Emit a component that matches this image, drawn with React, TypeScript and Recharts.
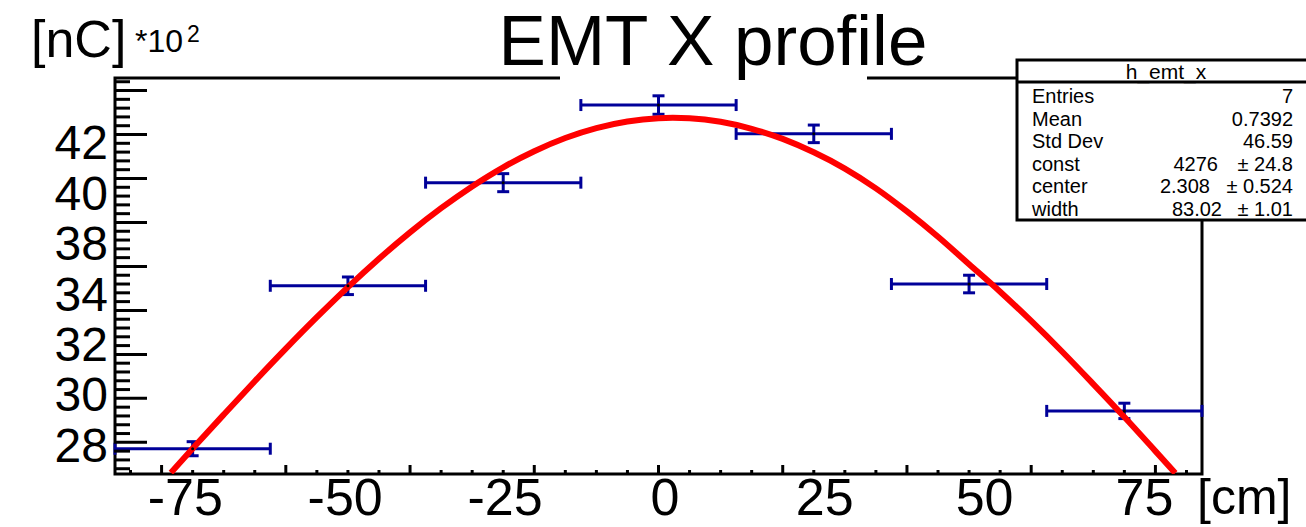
import React from 'react';
import { ComposedChart, XAxis, YAxis, Scatter, Line, ErrorBar, ReferenceArea } from 'recharts';

// histogram h_emt_x : 7 bins of 25 cm, values in [nC]*10^2
const binCenters = [-75, -50, -25, 0, 25, 50, 75];
const binValues = [27.71, 35.12, 39.81, 43.34, 42.03, 35.2, 29.43];
const binErrors = [0.32, 0.4, 0.41, 0.42, 0.4, 0.4, 0.35];
const binHalfWidths = [12.5, 12.5, 12.5, 12.5, 12.5, 12.5, 12.5];

// red gaussian fit
const fitX = [-78.5, -75, -70, -65, -60, -55, -50, -45, -40, -35, -30, -25, -20, -15, -10, -5, 0, 2.3, 5, 10, 15, 20, 25, 30, 35, 40, 45, 50, 55, 60, 65, 70, 75, 80, 83.2];
const fitY = [26.62, 27.72, 29.26, 30.78, 32.26, 33.69, 35.06, 36.35, 37.55, 38.65, 39.64, 40.51, 41.24, 41.84, 42.29, 42.59, 42.74, 42.76, 42.74, 42.58, 42.26, 41.8, 41.19, 40.45, 39.55, 38.5, 37.35, 36.1, 34.85, 33.52, 32.12, 30.65, 29.15, 27.6, 26.6];

const xTickMarks = [-85, -80, -75, -70, -65, -60, -55, -50, -45, -40, -35, -30, -25, -20, -15, -10, -5, 0, 5, 10, 15, 20, 25, 30, 35, 40, 45, 50, 55, 60, 65, 70, 75, 80, 85];
const yTickMarks = [26.8, 27.2, 27.6, 28, 28.4, 28.8, 29.2, 29.6, 30, 30.4, 30.8, 31.2, 31.6, 32, 32.4, 32.8, 33.2, 33.6, 34, 34.4, 34.8, 35.2, 35.6, 36, 36.4, 36.8, 37.2, 37.6, 38, 38.4, 38.8, 39.2, 39.6, 40, 40.4, 40.8, 41.2, 41.6, 42, 42.4, 42.8, 43.2, 43.6, 44, 44.4];
const xTickLabels = [-75, -50, -25, 0, 25, 50, 75];
const yTickLabels = ['28', '30', '32', '34', '38', '40', '42'];

const statsRows = [
  { name: 'Entries', value: '7', err: '' },
  { name: 'Mean', value: '0.7392', err: '' },
  { name: 'Std Dev', value: '46.59', err: '' },
  { name: 'const', value: '4276', err: '± 24.8' },
  { name: 'center', value: '2.308', err: '± 0.524' },
  { name: 'width', value: '83.02', err: '± 1.01' },
];

const points = binCenters.map((x, i) => ({ x, y: binValues[i], ex: binHalfWidths[i], ey: binErrors[i] }));
const fit = fitX.map((x, i) => ({ x, y: fitY[i] }));

const FONT = '"Liberation Sans", Arial, Helvetica, sans-serif';
const BLUE = '#000099';

const XTickMark = (props: any) => {
  const { x, y, payload } = props;
  const major = Math.abs(payload.value % 20) < 0.01;
  return <line x1={x} x2={x} y1={y} y2={y - (major ? 10 : 5)} stroke="#000" strokeWidth={3} />;
};

const YTickMark = (props: any) => {
  const { x, y, payload } = props;
  const half = payload.value / 2;
  const major = Math.abs(half - Math.round(half)) < 0.01;
  return <line x1={x} x2={x + (major ? 33 : 16)} y1={y} y2={y} stroke="#000" strokeWidth={3} />;
};

const Dot = (props: any) => <circle cx={props.cx} cy={props.cy} r={1.5} fill="#000" />;

export default function App() {
  return (
    <div style={{ position: 'absolute', left: 0, top: 0, width: 1306, height: 527, background: '#fff', fontFamily: FONT }}>
      <ComposedChart width={1306} height={527} margin={{ top: 78, right: 104, bottom: 51, left: 113 }}>
        <XAxis xAxisId="main" dataKey="x" type="number" domain={[-87.5, 87.5]} allowDataOverflow
          ticks={xTickMarks} interval={0} height={1} tickSize={0} tickMargin={0}
          axisLine={false} tickLine={false} tick={<XTickMark />} />
        <XAxis xAxisId="lab" dataKey="x" type="number" domain={[-86.0, 84.0]} allowDataOverflow
          ticks={xTickLabels} interval={0} height={1} tickSize={0} tickMargin={4}
          axisLine={false} tickLine={false} tick={{ fill: '#000', fontSize: 52, fontFamily: FONT }} />
        <YAxis yAxisId="main" type="number" domain={[26.56, 44.57]} allowDataOverflow
          ticks={yTickMarks} interval={0} width={1} tickSize={0} tickMargin={0}
          axisLine={false} tickLine={false} tick={<YTickMark />} />
        <YAxis yAxisId="lab" type="number" domain={[-0.577, 7.271]} allowDataOverflow
          ticks={[0, 1, 2, 3, 4, 5, 6]} interval={0} width={1} tickSize={0} tickMargin={7}
          tickFormatter={(i: number) => yTickLabels[i]}
          axisLine={false} tickLine={false} tick={{ fill: '#000', fontSize: 48, fontFamily: FONT }} />
        <Scatter xAxisId="main" yAxisId="main" data={points} dataKey="y" shape={<Dot />} isAnimationActive={false}>
          <ErrorBar dataKey="ex" direction="x" width={6} stroke={BLUE} strokeWidth={3} isAnimationActive={false} />
          <ErrorBar dataKey="ey" direction="y" width={6} stroke={BLUE} strokeWidth={3} isAnimationActive={false} />
        </Scatter>
        <Line xAxisId="main" yAxisId="main" data={fit} dataKey="y" type="monotone" stroke="#ff0000"
          strokeWidth={6} dot={false} activeDot={false} isAnimationActive={false} />
        <ReferenceArea xAxisId="main" yAxisId="main" x1={-87.5} x2={87.5} y1={26.56} y2={44.57}
          fill="none" fillOpacity={0} stroke="#000" strokeWidth={3} ifOverflow="visible" />
      </ComposedChart>
      <svg width={1306} height={527} style={{ position: 'absolute', left: 0, top: 0, pointerEvents: 'none' }}>
        <g fontFamily={FONT} fill="#000">
          <rect x={560} y={0} width={307} height={81} fill="#fff" />
          <text x={713} y={65} fontSize={71} textAnchor="middle">EMT X profile</text>
          <text x={31} y={57} fontSize={52}>[nC]</text>
          <text x={135} y={52} fontSize={32}>*10</text>
          <text x={187} y={42} fontSize={23}>2</text>
          <text x={1197} y={514} fontSize={50}>[cm]</text>
          <rect x={1017} y={60} width={300} height={160} fill="#fff" stroke="#000" strokeWidth={3} />
          <line x1={1017} x2={1317} y1={82} y2={82} stroke="#000" strokeWidth={3} />
          <text x={1166} y={79} fontSize={21} textAnchor="middle">h_emt_x</text>
          {statsRows.map((r, i) => (
            <g key={r.name}>
              <text x={1032} y={103 + i * 22.5} fontSize={20}>{r.name}</text>
              {r.err ? (
                <>
                  <text x={[1218, 1210, 1222][i - 3]} y={103 + i * 22.5} fontSize={20} textAnchor="end">{r.value}</text>
                  <text x={1293} y={103 + i * 22.5} fontSize={20} textAnchor="end">{r.err}</text>
                </>
              ) : (
                <text x={1293} y={103 + i * 22.5} fontSize={20} textAnchor="end">{r.value}</text>
              )}
            </g>
          ))}
        </g>
      </svg>
    </div>
  );
}
